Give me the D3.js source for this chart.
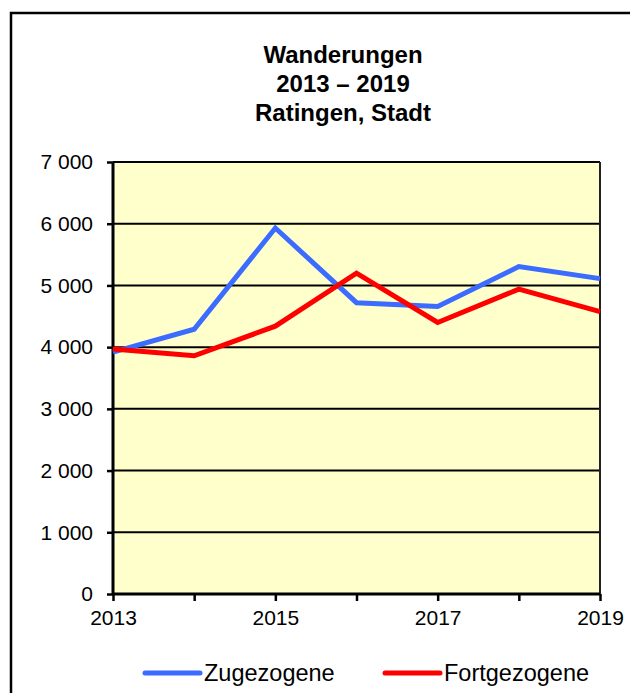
<!DOCTYPE html>
<html>
<head>
<meta charset="utf-8">
<script src="https://cdn.jsdelivr.net/npm/d3@7"></script>
<style>
  body { margin: 0; background: #fff; }
  svg { display: block; font-family: "Liberation Sans", Arial, sans-serif; }
</style>
</head>
<body>
<svg id="chart"></svg>
<script>
// data
const years = [2013, 2014, 2015, 2016, 2017, 2018, 2019];
const zugezogene = [3920, 4290, 5930, 4720, 4660, 5305, 5110];
const fortgezogene = [3970, 3860, 4340, 5200, 4400, 4940, 4575];
const yTicks = [0, 1000, 2000, 3000, 4000, 5000, 6000, 7000];
const xTicks = [2013, 2015, 2017, 2019];
const titleLines = ["Wanderungen", "2013 \u2013 2019", "Ratingen, Stadt"];

const series = [
    { name: "Zugezogene", values: zugezogene, color: "#3b6bff" },
    { name: "Fortgezogene", values: fortgezogene, color: "#ff0000" }
];

var width = 630,
    height = 693;

var svg = d3.select("#chart")
    .attr("width", width)
    .attr("height", height);

// outer frame (right and bottom edges lie outside the picture)
svg.append("rect")
    .attr("x", 11)
    .attr("y", 13)
    .attr("width", 700)
    .attr("height", 700)
    .attr("fill", "none")
    .attr("stroke", "#000")
    .attr("stroke-width", 2.5);

var plot = { left: 113, top: 162, right: 600, bottom: 594 };

var xScale = d3.scaleLinear().domain([2013, 2019]).range([plot.left, plot.right]),
    yScale = d3.scaleLinear().domain([0, 7000]).range([plot.bottom, plot.top]);

// title
svg.append("text")
    .attr("text-anchor", "middle")
    .attr("font-weight", "bold")
    .attr("font-size", 24)
    .selectAll("tspan")
    .data(titleLines)
    .join("tspan")
    .attr("x", 343)
    .attr("y", (d, i) => 63 + i * 29)
    .text(d => d);

// plot background
svg.append("rect")
    .attr("x", plot.left)
    .attr("y", plot.top)
    .attr("width", plot.right - plot.left)
    .attr("height", plot.bottom - plot.top)
    .attr("fill", "#ffffcc");

// gridlines
svg.append("g")
    .selectAll("line")
    .data(yTicks.filter(d => d > 0))
    .join("line")
    .attr("x1", plot.left)
    .attr("x2", plot.right)
    .attr("y1", d => yScale(d))
    .attr("y2", d => yScale(d))
    .attr("stroke", "#000")
    .attr("stroke-width", 2);

// right border of the plot
svg.append("line")
    .attr("x1", plot.right).attr("x2", plot.right)
    .attr("y1", plot.top).attr("y2", plot.bottom)
    .attr("stroke", "#222")
    .attr("stroke-width", 2);

// y axis
var yAxis = svg.append("g")
    .attr("transform", "translate(" + plot.left + ",0)")
    .call(d3.axisLeft(yScale)
        .tickValues(yTicks)
        .tickSize(6)
        .tickPadding(14)
        .tickFormat(d => d3.format(",")(d).replace(/,/g, " ")));

// x axis
var xAxis = svg.append("g")
    .attr("transform", "translate(0," + plot.bottom + ")")
    .call(d3.axisBottom(xScale)
        .tickValues(years)
        .tickSize(7)
        .tickPadding(9)
        .tickFormat(d => xTicks.includes(d) ? d : ""));

[yAxis, xAxis].forEach(ax => {
    ax.select(".domain").attr("stroke", "#000").attr("stroke-width", 3);
    ax.selectAll(".tick line").attr("stroke", "#000").attr("stroke-width", 2.5);
    ax.selectAll(".tick text")
        .attr("fill", "#000")
        .attr("font-size", 21)
        .attr("font-family", "Liberation Sans, Arial, sans-serif");
});
yAxis.select(".domain").attr("d", "M0," + plot.bottom + "V" + plot.top);
xAxis.select(".domain").attr("d", "M" + plot.left + ",0H" + plot.right);

// lines
var line = d3.line()
    .x((d, i) => xScale(years[i]))
    .y(d => yScale(d));

svg.append("g")
    .selectAll("path")
    .data(series)
    .join("path")
    .attr("d", d => line(d.values))
    .attr("fill", "none")
    .attr("stroke", d => d.color)
    .attr("stroke-width", 5)
    .attr("stroke-linejoin", "miter");

// legend
var legendX = [145, 385];
var legend = svg.append("g")
    .selectAll("g")
    .data(series)
    .join("g")
    .attr("transform", (d, i) => "translate(" + legendX[i] + ",673)");

legend.append("line")
    .attr("x1", 0)
    .attr("x2", 55)
    .attr("stroke", d => d.color)
    .attr("stroke-width", 5)
    .attr("stroke-linecap", "round");

legend.append("text")
    .attr("x", 59)
    .attr("y", 8)
    .attr("font-size", 23.5)
    .text(d => d.name);
</script>
</body>
</html>
